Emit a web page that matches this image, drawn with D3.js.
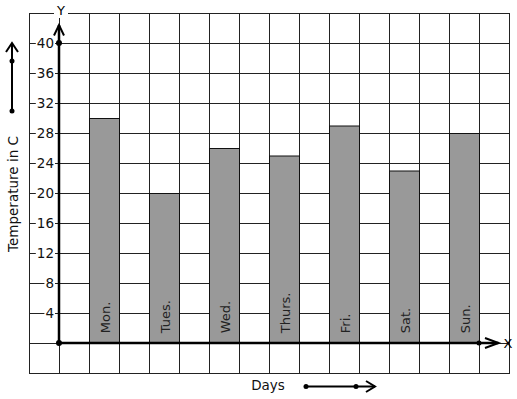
<!DOCTYPE html>
<html><head><meta charset="utf-8">
<script src="https://cdn.jsdelivr.net/npm/d3@7"></script>
<style>body{margin:0;background:#fff}svg{display:block;font-family:"DejaVu Sans",sans-serif}</style>
</head><body><svg id="c" width="517" height="399"></svg>
<script>
const days = ["Mon.","Tues.","Wed.","Thurs.","Fri.","Sat.","Sun."];
const temps = [30,20,26,25,29,23,28];
const yTicks = [4,8,12,16,20,24,28,32,36,40];

const svg = d3.select("#c");
const gx = d3.scaleLinear().domain([0,16]).range([29,509]);
const y = d3.scaleLinear().domain([0,40]).range([343,43]);
const x = d3.scaleBand().domain(days).range([gx(1.5), gx(15.5)]).paddingInner(0.5).paddingOuter(0.25);

const grid = svg.append("g").attr("stroke","#222").attr("stroke-width",1);
d3.range(0,17).forEach(i=>{
  grid.append("line").attr("x1",gx(i)+0.5).attr("x2",gx(i)+0.5).attr("y1",y(44)).attr("y2",y(-4));
});
d3.range(-4,45,4).forEach(v=>{
  grid.append("line").attr("x1",gx(0)).attr("x2",gx(16)+1).attr("y1",y(v)+0.5).attr("y2",y(v)+0.5);
});

// bars
const bars = svg.append("g");
bars.selectAll("rect").data(temps).join("rect")
  .attr("x",(d,i)=>x(days[i])+0.5).attr("width",x.bandwidth())
  .attr("y",d=>y(d)+0.5).attr("height",d=>y(0)-y(d))
  .attr("fill","#999").attr("stroke","#111").attr("stroke-width",1);
bars.selectAll("text").data(days).join("text")
  .attr("transform",d=>`translate(${x(d)+x.bandwidth()/2+5.5},${y(1.3)}) rotate(-90)`)
  .attr("font-size",13).attr("fill","#222").text(d=>d);

// y tick labels with white background
const tk = svg.append("g");
yTicks.forEach(v=>{
  const t = tk.append("text").attr("x",54).attr("y",y(v)+5).attr("text-anchor","end")
    .attr("font-size",13.5).attr("fill","#111").text(v);
  const b = t.node().getBBox();
  tk.insert("rect","text").attr("x",b.x-1).attr("y",y(v)-2).attr("width",b.width+2).attr("height",4).attr("fill","#fff");
});

// axes
const ax = svg.append("g").attr("stroke","#000").attr("stroke-width",2.5).attr("fill","none");
ax.append("line").attr("x1",gx(1)).attr("x2",gx(1)).attr("y1",y(0)).attr("y2",y(42.4));
ax.append("path").attr("d",`M${gx(1)-5},${y(41)} L${gx(1)},${y(42.4)} L${gx(1)+5},${y(41)}`).attr("stroke-width",2);
ax.append("line").attr("x1",gx(1)).attr("x2",gx(15.65)).attr("y1",y(0)).attr("y2",y(0));
ax.append("path").attr("d",`M${gx(15.2)},${y(0)-5} L${gx(15.65)},${y(0)} L${gx(15.2)},${y(0)+5}`).attr("stroke-width",2);
svg.append("circle").attr("cx",gx(1)).attr("cy",y(0)).attr("r",3);
svg.append("circle").attr("cx",gx(1)).attr("cy",y(40)).attr("r",3);
svg.append("circle").attr("cx",gx(15)).attr("cy",y(0)).attr("r",2.5);

// axis letters
svg.append("rect").attr("x",54).attr("y",8).attr("width",14).attr("height",10).attr("fill","#fff");
svg.append("text").attr("x",61).attr("y",15).attr("text-anchor","middle").attr("font-size",13).text("Y");
svg.append("text").attr("x",508).attr("y",348).attr("text-anchor","middle").attr("font-size",13).text("X");

// axis titles
svg.append("text").attr("transform","translate(18,194) rotate(-90)").attr("text-anchor","middle")
  .attr("font-size",13.5).attr("fill","#111").text("Temperature in C");
svg.append("text").attr("x",268).attr("y",390).attr("text-anchor","middle")
  .attr("font-size",13.5).attr("fill","#111").text("Days");

// decorative arrows
const dec = svg.append("g").attr("stroke","#000").attr("stroke-width",2).attr("fill","none");
dec.append("line").attr("x1",12).attr("x2",12).attr("y1",111).attr("y2",43);
dec.append("path").attr("d","M6,52 L12,43 L18,52");
svg.append("circle").attr("cx",12).attr("cy",111).attr("r",2.5);
svg.append("circle").attr("cx",12).attr("cy",61).attr("r",2.5);
dec.append("line").attr("x1",306).attr("x2",375).attr("y1",386.5).attr("y2",386.5);
dec.append("path").attr("d","M366,381 L375,386.5 L366,392");
svg.append("circle").attr("cx",306).attr("cy",386.5).attr("r",2.5);
svg.append("circle").attr("cx",356).attr("cy",386.5).attr("r",2.5);
</script></body></html>
